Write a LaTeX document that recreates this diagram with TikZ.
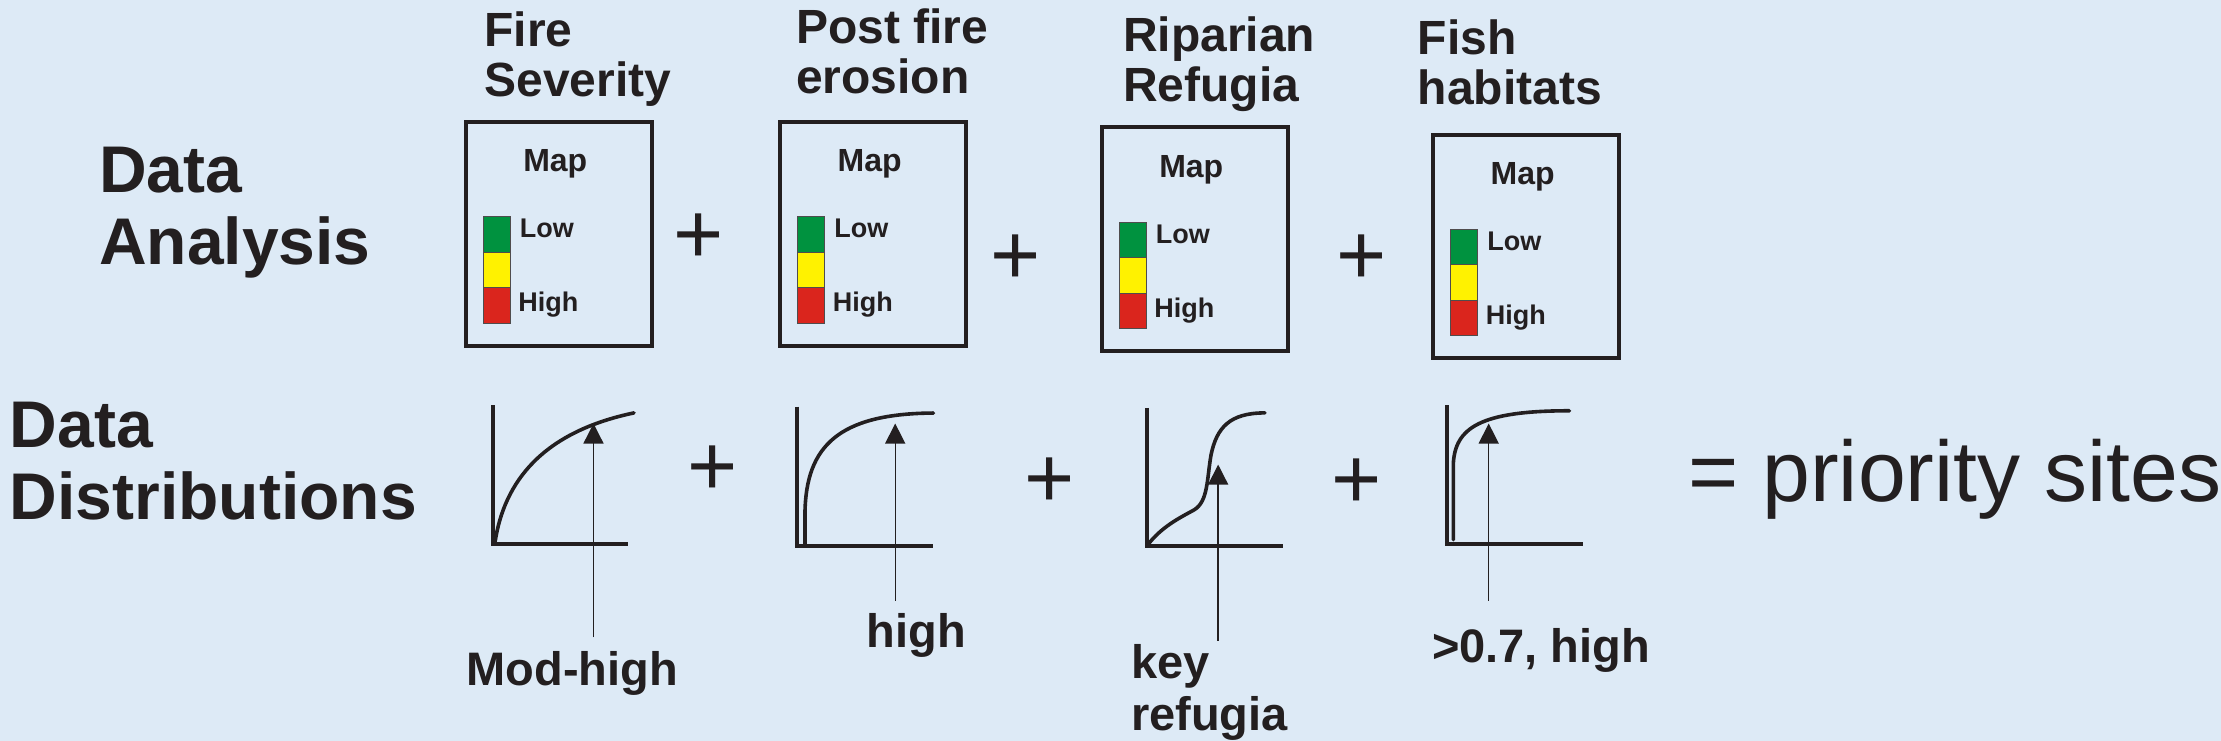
\documentclass[tikz,border=0pt]{standalone}
\usepackage{fontspec}
\setmainfont{Liberation Sans}
\usetikzlibrary{arrows.meta}
\definecolor{bg}{HTML}{DDEAF6}
\definecolor{ink}{HTML}{231F20}
\definecolor{mgreen}{HTML}{00923F}
\definecolor{myellow}{HTML}{FFF200}
\definecolor{mred}{HTML}{DA251D}
\begin{document}
\begin{tikzpicture}[x=1.4165pt,y=-1.4165pt,
  every node/.style={inner sep=0pt, outer sep=0pt, text=ink},
  rowlbl/.style={font=\fontsize{66}{72}\selectfont\bfseries, align=left, anchor=north west},
  ttl/.style={font=\fontsize{48}{50}\selectfont\bfseries, align=left, anchor=north west},
  mapbox/.style={draw=ink, line width=4pt, minimum width=131*1.4165pt, minimum height=158*1.4165pt, anchor=north west},
  maptxt/.style={font=\fontsize{32}{32}\selectfont\bfseries, anchor=base},
  lvl/.style={font=\fontsize{27}{27}\selectfont\bfseries, anchor=base west},
  seg/.style={draw=ink!80, line width=0.8pt},
  plus/.style={font=\fontsize{86}{86}\selectfont, anchor=base},
  axis/.style={draw=ink, line width=4pt},
  crv/.style={draw=ink, line width=3.6pt, line cap=round, line join=round},
  ptr/.style={draw=ink, line width=1.4pt, -{Triangle[length=20pt,width=20pt]}},
  lab/.style={font=\fontsize{47}{52}\selectfont\bfseries, anchor=base}
]
\fill[bg] (0,0) rectangle (1568,523);
\useasboundingbox (0,0) rectangle (1568,523);

% row labels
\node[rowlbl] (ra) at (70,104) {Data\\Analysis};
\node[rowlbl] (rd) at (7,284) {Data\\Distributions};

% titles
\node[ttl] (t1) at (342,8) {Fire\\Severity};
\node[ttl] (t2) at (562,6) {Post fire\\erosion};
\node[ttl] (t3) at (793,12) {Riparian\\Refugia};
\node[ttl] (t4) at (1001,14) {Fish\\habitats};

% map boxes
\foreach \i/\x/\y in {1/329/86, 2/551/86, 3/778/90, 4/1012/95}{
  \node[mapbox] (box\i) at (\x,\y) {};
  \node[maptxt] (map\i) at ([shift={(63,35)}]box\i.north west) {Map};
  \fill[mgreen, seg] ([shift={(12,67)}]box\i.north west) rectangle ++(19,25);
  \fill[myellow, seg] ([shift={(12,92)}]box\i.north west) rectangle ++(19,25);
  \fill[mred, seg] ([shift={(12,117)}]box\i.north west) rectangle ++(19,25);
  \node[lvl] (low\i) at ([shift={(38,82)}]box\i.north west) {Low};
  \node[lvl] (high\i) at ([shift={(37,134)}]box\i.north west) {High};
}

% plus signs top row
\node[plus] (p1) at (493,186) {+};
\node[plus] (p2) at (717,201) {+};
\node[plus] (p3) at (961,201) {+};
% plus signs bottom row
\node[plus] (q1) at (503,350) {+};
\node[plus] (q2) at (741,358) {+};
\node[plus] (q3) at (958,359) {+};

% graph 1
\draw[axis] (348,286) -- (348,384) -- (443.5,384);
\draw[crv] (349.5,382.6) .. controls (356,340) and (383,305) .. (447.6,291.5);
% graph 2
\draw[axis] (562.4,287) -- (562.4,385.5) -- (659,385.5);
\draw[crv] (568.3,384.8) -- (568.3,362) .. controls (569,315) and (592,292) .. (659,291.6);
% graph 3
\draw[axis] (809.5,288) -- (809.5,385.5) -- (906,385.5);
\draw[crv] (810,385) .. controls (820,372) and (832,366) .. (843,360) .. controls (853,354) and (852,338) .. (855,321) .. controls (859,302) and (868,291.5) .. (893,291.5);
% graph 4
\draw[axis] (1021.7,286) -- (1021.7,384) -- (1117.6,384);
\draw[crv] (1026,381) -- (1026,328) .. controls (1027,302) and (1045,290) .. (1108,290);

% labels
\node[lab] (l1) at (404,484) {Mod-high};
\node[lab] (l2) at (647,457) {high};
\node[lab, anchor=north west, align=left] (l3) at (798.5,455) {key\\refugia};
\node[lab] (l4) at (1088,468) {>0.7, high};

% arrows
\coordinate (a1s) at (419,450); \coordinate (a1t) at (419,299);
\coordinate (a2s) at (632,424); \coordinate (a2t) at (632,299);
\coordinate (a3s) at (860,452.5); \coordinate (a3t) at (860,328);
\coordinate (a4s) at (1051,424); \coordinate (a4t) at (1051,299);
\draw[ptr] (a1s) -- (a1t);
\draw[ptr] (a2s) -- (a2t);
\draw[ptr] (a3s) -- (a3t);
\draw[ptr] (a4s) -- (a4t);

% result
\node[font=\fontsize{86}{86}\selectfont, anchor=base west] (res) at (1192,354) {= priority sites};
\end{tikzpicture}
\end{document}
